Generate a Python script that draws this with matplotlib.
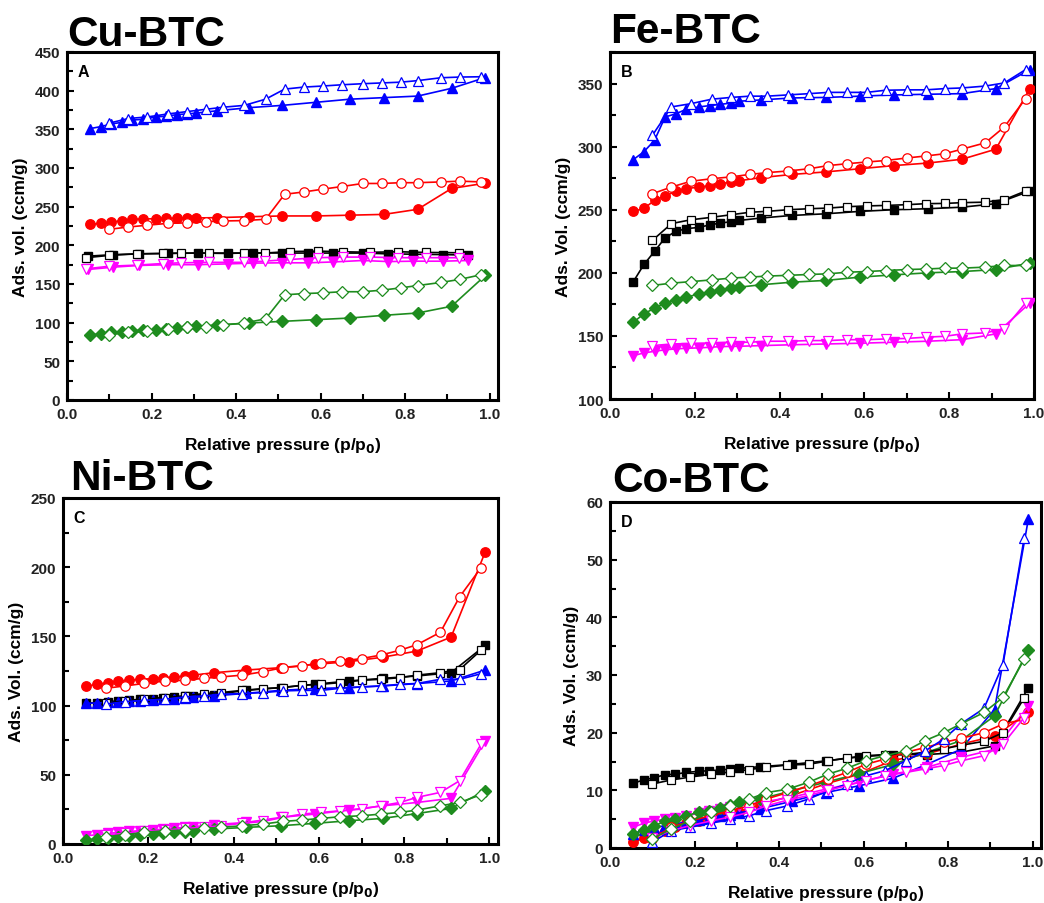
import matplotlib
matplotlib.use("Agg")
import matplotlib.pyplot as plt
from matplotlib.ticker import MultipleLocator, AutoMinorLocator

plt.rcParams['font.family'] = ['Liberation Sans', 'DejaVu Sans']
plt.rcParams['font.weight'] = 'bold'

# ---------------- common pressure grids ----------------
ads_x = [0.055, 0.08, 0.105, 0.13, 0.155, 0.18, 0.21, 0.235, 0.26, 0.285,
         0.305, 0.355, 0.43, 0.51, 0.59, 0.67, 0.75, 0.83, 0.91, 0.99]
des_x = [0.98, 0.93, 0.885, 0.83, 0.79, 0.745, 0.70, 0.65, 0.605, 0.56,
         0.515, 0.47, 0.42, 0.37, 0.33, 0.285, 0.24, 0.19, 0.145, 0.10]
# panel A black / magenta grids
ads_x2 = [0.05, 0.11, 0.17, 0.24, 0.31, 0.38, 0.44, 0.51, 0.57, 0.63, 0.70, 0.76, 0.82, 0.89, 0.95]
des_x2 = [0.045, 0.10, 0.165, 0.227, 0.27, 0.335, 0.42, 0.468, 0.528, 0.594, 0.652, 0.718, 0.784, 0.85, 0.928]

# ---------------- Panel A: Cu-BTC ----------------
a_black_ads = [186, 188, 189, 189.5, 190, 189.5, 190.4, 190, 190, 190, 190, 189, 188.5, 188, 187.4]
a_black_des = [184, 187, 189, 189.5, 190, 190, 190, 190, 192, 192.5, 191.7, 191, 191.7, 190.8, 190.4]
a_mag_ads = [168.8, 171.8, 174, 175, 175, 176, 177, 177.4, 177.4, 178.5, 180.4, 179, 179.5, 179.5, 180.4]
a_mag_des = [169.6, 173, 174.4, 176.5, 177.4, 178, 178, 179.6, 181.7, 184, 184.8, 184.8, 184, 184, 184]
a_red_ads = [227, 228.5, 230, 232, 233.7, 234, 234.5, 235, 235, 235, 235.4, 235.8, 237, 238, 238, 239, 240, 246.6, 273.5, 280.4]
a_red_des = [282, 283, 282, 281, 281, 280, 280, 276, 272.6, 269, 266, 233.7, 232, 231.5, 230.6, 229, 228.5, 226, 223.7, 220.7]
a_blue_ads = [351, 353.5, 357, 359, 362, 363, 366, 367, 369, 370, 371, 374, 378, 381, 385, 389, 391, 393, 403, 417]
a_blue_des = [418, 417.6, 416.7, 413, 411, 410, 409, 407.6, 406, 404.6, 402, 389, 381, 378.6, 376, 373, 370, 366, 364, 358]
a_green_ads = [84.4, 85.2, 87.4, 88.5, 89.6, 90.3, 90.9, 92, 93.5, 94.5, 95.2, 97, 99.5, 101.7, 103.9, 106, 109.5, 112.5, 121.2, 161]
a_green_des = [162, 156, 152, 148, 145, 142, 140, 140, 138.5, 137.6, 136, 105, 99.5, 97, 95, 94, 92, 88.7, 87.4, 84.4]

# ---------------- Panel B: Fe-BTC ----------------
b_black_ads = [193, 206.6, 217, 227.8, 232.8, 235, 236, 238, 239.4, 240.5, 241.5, 243.4, 245.5, 246.8, 248.7, 250, 250.8, 252, 254.8, 264.8]
b_black_des = [264.8, 258, 256, 255.6, 255, 254.8, 254, 253.4, 253, 252.4, 251.3, 250.8, 250, 248.7, 248, 246, 244, 242, 239, 225.7]
b_red_ads = [248.7, 251, 257.4, 261, 264.5, 266.7, 268, 269, 270.5, 272, 273, 275.4, 278, 280, 282.5, 285, 287, 290, 298, 346]
b_red_des = [338, 315.6, 303, 298, 294.4, 292.6, 291, 289, 287.8, 286.5, 285, 282.5, 280.7, 279.4, 278, 276, 274.6, 272.5, 268, 262.7]
b_blue_ads = [289.7, 296, 305, 323.5, 326, 329.6, 331.5, 332.5, 333.5, 334.5, 336, 337, 338.6, 339, 340, 341, 341.5, 342, 346, 361]
b_blue_des = [361, 350.5, 348, 346.5, 346, 345, 345, 344.7, 343, 343, 343, 342, 341, 340, 340, 339, 337.6, 334, 331.5, 309]
b_mag_ads = [134.4, 136.5, 137.8, 139, 139.7, 140.2, 140.5, 141, 141.5, 141.7, 141.8, 142.3, 143, 143.6, 144.2, 145, 145.8, 147, 151.6, 176]
b_mag_des = [176, 155.6, 152.4, 151.6, 149.7, 149, 148, 147.6, 147, 147, 146.3, 146.3, 145.8, 145.8, 145, 145, 144.4, 144, 143.6, 142.3]
b_green_ads = [160.8, 167.5, 172, 176, 178.6, 180.7, 183.3, 184.7, 186.5, 187.8, 188.6, 190.5, 192.6, 194, 196.6, 198.4, 200, 201, 202.6, 207.7]
b_green_des = [205.8, 205.8, 204.5, 203.7, 203.7, 203, 202.6, 201.8, 201, 200.5, 199.2, 198.7, 198, 197.4, 196.6, 195.8, 194.4, 193, 191.8, 190]

# ---------------- Panel C: Ni-BTC ----------------
c_black_ads = [102, 102, 102.9, 103.4, 103.8, 104.6, 105, 105.8, 106.3, 106.7, 107, 108, 111, 113, 115.4, 117.8, 119.7, 121.4, 123.8, 143.5]
c_black_des = [140, 126, 123.8, 122, 120.2, 119, 118.3, 116.6, 115.4, 114.7, 113, 112.3, 111, 109.4, 108.7, 107, 105.8, 104.6, 103.4, 102]
c_red_ads = [114, 115.4, 116.6, 117.8, 118.3, 119, 119.5, 120.2, 120.7, 121.3, 122, 123.8, 125.7, 127.4, 129.8, 131.7, 135, 139.4, 149.5, 211]
c_red_des = [199.5, 178.6, 153, 144, 140, 136.5, 134, 132, 131, 128.6, 127.4, 124.5, 122, 120.7, 119.7, 118.3, 117.8, 116, 114.2, 112.5]
c_blue_ads = [101.7, 101.9, 102.3, 102.7, 103.1, 103.6, 104.1, 104.6, 105.1, 105.6, 106, 107, 108.9, 111, 112.3, 113, 114.2, 115.9, 117.8, 125.7]
c_blue_des = [123, 119, 119, 116, 115.4, 114.2, 113.5, 112.5, 111, 111, 110.6, 109.4, 108.7, 108.2, 107, 106.3, 104.6, 103.8, 102.9, 101]
c_mag_ads = [6, 6.7, 7.7, 8.4, 9.1, 9.6, 10, 10.8, 11.5, 12, 12.5, 14, 15.6, 19.2, 21.6, 24.5, 27.6, 30, 33, 74.5]
c_mag_des = [72, 45.7, 37.3, 33.7, 30, 27.6, 25.2, 24, 22.8, 21.6, 19.2, 16.3, 14.9, 13.2, 12, 11.3, 10, 9.6, 7.7, 6.7]
c_green_ads = [2.9, 3.6, 4.5, 5.3, 6, 6.5, 7.2, 7.8, 8.4, 9, 9.6, 10.8, 12, 13.2, 14.9, 16.8, 18.5, 22, 25.7, 38.5]
c_green_des = [35.6, 30, 27.6, 24.5, 22.8, 21.6, 20.4, 19.7, 18.5, 17.3, 16.3, 14.4, 13.2, 12, 11.3, 10, 9.6, 8.4, 6.7, 5.3]

# ---------------- Panel D: Co-BTC ----------------
d_black_ads = [11.25, 11.8, 12.2, 12.7, 12.8, 13.1, 13.3, 13.4, 13.5, 13.7, 13.8, 14.1, 14.5, 15.1, 15.8, 16.2, 16.2, 16.6, 17.7, 27.8]
d_black_des = [26, 20, 18.5, 17.8, 17.2, 16.6, 16.2, 16.2, 16, 15.6, 15.1, 14.5, 14.4, 14, 13.6, 13.2, 12.8, 12.3, 11.8, 11.1]
d_red_ads = [1, 1.7, 2.4, 3, 3.7, 4.3, 4.7, 5.3, 5.9, 6.2, 6.3, 7.4, 9.1, 11.1, 12.8, 15.2, 16.3, 18, 19.4, 23.5]
d_red_des = [22.3, 21.5, 20, 19, 18.3, 17.4, 16.6, 15.4, 14.5, 13.1, 11.9, 10.8, 9.6, 8.5, 7.3, 6.5, 5.6, 4.7, 3.6, 1.6]
d_blue_ads = [2.5, 3.1, 3.5, 3.9, 4.2, 4.5, 4.9, 5.2, 5.5, 5.8, 6.1, 6.8, 8.1, 9.6, 10.8, 12.1, 14.5, 17.1, 24, 57]
d_blue_des = [53.7, 31.8, 24.2, 21.5, 18.9, 16.8, 15.1, 13.4, 12.5, 11.1, 9.9, 8.5, 7.3, 6.5, 5.6, 5, 4.3, 3.6, 3, 1]
d_mag_ads = [3.6, 4.3, 4.7, 5, 5.2, 5.6, 6, 6.5, 6.8, 7.1, 7.3, 7.9, 8.8, 10.2, 11.4, 12.8, 14, 15.7, 17.1, 24.6]
d_mag_des = [22.6, 18, 16, 15.1, 14.3, 13.7, 13.1, 12.5, 11.7, 10.8, 10, 9.1, 8.3, 7.3, 6.2, 5.4, 4.7, 3.9, 3, 1.8]
d_green_ads = [2.4, 3.1, 3.9, 4.6, 5, 5.6, 6.2, 6.5, 7, 7.5, 7.9, 8.5, 9.9, 11.4, 12.9, 14.5, 16.6, 18.6, 22.9, 34.4]
d_green_des = [32.7, 26.1, 23.5, 21.5, 20, 18.6, 16.8, 16, 15.1, 13.8, 12.8, 11.4, 10.2, 9.6, 8.5, 7.3, 6.2, 4.7, 3.3, 1.6]

titles = ["Cu-BTC", "Fe-BTC", "Ni-BTC", "Co-BTC"]
letters = ["A", "B", "C", "D"]
ylabels = ["Ads. vol. (ccm/g)", "Ads. Vol. (ccm/g)", "Ads. Vol. (ccm/g)", "Ads. Vol. (ccm/g)"]
xlabel = "Relative pressure (p/p$_\\mathbf{0}$)"
ylims = [(0, 450), (100, 375), (0, 250), (0, 60)]
xlims = [(0, 1.02), (0, 1.0), (0, 1.02), (0, 1.02)]
ymajor = [50, 50, 50, 10]

COL = {'black': '#000000', 'red': '#FF0000', 'blue': '#0000FF',
       'mag': '#FF00FF', 'green': '#1E8C1E'}
MARK = {'black': 's', 'red': 'o', 'blue': '^', 'mag': 'v', 'green': 'D'}
MSIZE = {'black': 6.2, 'red': 6.8, 'blue': 7.0, 'mag': 7.0, 'green': 5.8}

W, H = 1044, 904
fig = plt.figure(figsize=(W / 100, H / 100), dpi=100)

# axes boxes in pixels: left, top, right, bottom
boxes = [(67, 53, 498, 401), (610, 53, 1034, 400), (63, 499, 498, 845), (610, 503, 1041, 849)]
title_pos = [(67, 46), (610, 43), (70, 490), (612, 492)]

panels = [
    [('black', ads_x2, a_black_ads, des_x2, a_black_des),
     ('red', ads_x, a_red_ads, des_x, a_red_des),
     ('blue', ads_x, a_blue_ads, des_x, a_blue_des),
     ('mag', ads_x2, a_mag_ads, des_x2, a_mag_des),
     ('green', ads_x, a_green_ads, des_x, a_green_des)],
    [('black', ads_x, b_black_ads, des_x, b_black_des),
     ('red', ads_x, b_red_ads, des_x, b_red_des),
     ('blue', ads_x, b_blue_ads, des_x, b_blue_des),
     ('mag', ads_x, b_mag_ads, des_x, b_mag_des),
     ('green', ads_x, b_green_ads, des_x, b_green_des)],
    [('black', ads_x, c_black_ads, des_x, c_black_des),
     ('red', ads_x, c_red_ads, des_x, c_red_des),
     ('blue', ads_x, c_blue_ads, des_x, c_blue_des),
     ('mag', ads_x, c_mag_ads, des_x, c_mag_des),
     ('green', ads_x, c_green_ads, des_x, c_green_des)],
    [('black', ads_x, d_black_ads, des_x, d_black_des),
     ('red', ads_x, d_red_ads, des_x, d_red_des),
     ('blue', ads_x, d_blue_ads, des_x, d_blue_des),
     ('mag', ads_x, d_mag_ads, des_x, d_mag_des),
     ('green', ads_x, d_green_ads, des_x, d_green_des)],
]

for i in range(4):
    l, t, r, b = boxes[i]
    ax = fig.add_axes([l / W, (H - b) / H, (r - l) / W, (b - t) / H])
    for key, ax_x, ay, dx, dy in panels[i]:
        c = COL[key]
        ax.plot(ax_x, ay, color=c, lw=1.2, marker=MARK[key], ms=MSIZE[key],
                mfc=c, mec=c, zorder=3)
        ax.plot(dx, dy, color=c, lw=1.2, marker=MARK[key], ms=MSIZE[key],
                mfc='white', mec=c, mew=0.9, zorder=4)
    ax.set_xlim(*xlims[i])
    ax.set_ylim(*ylims[i])
    ax.xaxis.set_major_locator(MultipleLocator(0.2))
    ax.xaxis.set_minor_locator(MultipleLocator(0.1))
    ax.yaxis.set_major_locator(MultipleLocator(ymajor[i]))
    ax.yaxis.set_minor_locator(AutoMinorLocator(2))
    ax.tick_params(which='both', direction='in', top=False, right=False,
                   labelsize=11, colors='black', width=1.5)
    ax.tick_params(which='major', length=5)
    ax.tick_params(which='minor', length=4)
    ax.tick_params(axis='x', which='major', pad=5)
    ax.tick_params(axis='y', which='major', pad=5)
    for lab in ax.get_xticklabels() + ax.get_yticklabels():
        lab.set_fontweight('bold')
        lab.set_color('#222222')
    for sp in ax.spines.values():
        sp.set_linewidth(2.2)
    ax.set_xlabel(xlabel, fontsize=12.5, fontweight='bold', labelpad=10)
    ax.set_ylabel(ylabels[i], fontsize=12.5, fontweight='bold', labelpad=5)
    ax.text(0.025, 0.965, letters[i], transform=ax.transAxes, fontsize=11.5,
            fontweight='bold', va='top', ha='left')
    tx, ty = title_pos[i]
    fig.text(tx / W, (H - ty) / H, titles[i], fontsize=30.5, fontweight='bold',
             ha='left', va='baseline')

fig.savefig("out.png", dpi=100)
